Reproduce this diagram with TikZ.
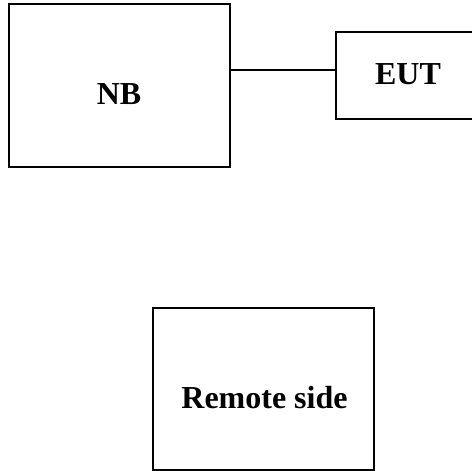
\documentclass[tikz,border=0pt]{standalone}
\usepackage{fontspec}
\setmainfont{Liberation Serif}
\tikzset{
  unit/.style={draw, line width=1.5pt, inner sep=0pt},
  tag/.style={anchor=base, font=\fontsize{32}{38}\selectfont\bfseries},
}
\begin{document}
\begin{tikzpicture}[x=1pt,y=-1pt]
    \clip (0,0) rectangle (472,471);
    \node[unit, minimum width=221pt, minimum height=163pt] (nb) at (119.5,85.5) {};
    \node[unit, minimum width=144pt, minimum height=87pt] (eut) at (408,75.5) {};
    \node[unit, minimum width=221pt, minimum height=162pt] (remote) at (263.5,389) {};
    \draw (119,104) node[tag] (nbtext) {NB};
    \draw (408,84) node[tag] (euttext) {EUT};
    \draw (264.5,408) node[tag] (remotetext) {Remote side};
    \coordinate (wire) at (0,70);
    \draw[line width=1.2pt] (nb.east |- wire) -- (eut.west |- wire);
\end{tikzpicture}
\end{document}
